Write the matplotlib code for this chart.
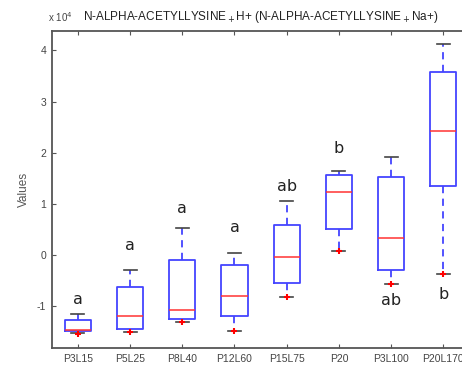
import numpy as np
import matplotlib.pyplot as plt

plt.rcParams["axes.unicode_minus"] = False

# Box statistics (values in units of 10^4)
groups = ["P3L15", "P5L25", "P8L40", "P12L60", "P15L75", "P20", "P3L100", "P20L170"]
whis_lo = [-1.53, -1.50, -1.31, -1.49, -0.83, 0.08, -0.57, -0.38]
q1 = [-1.49, -1.45, -1.25, -1.20, -0.56, 0.51, -0.29, 1.34]
medians = [-1.47, -1.19, -1.08, -0.80, -0.04, 1.23, 0.33, 2.43]
q3 = [-1.28, -0.62, -0.11, -0.20, 0.59, 1.57, 1.52, 3.58]
whis_hi = [-1.16, -0.30, 0.53, 0.045, 1.06, 1.65, 1.91, 4.12]
outliers = [-1.54, -1.51, -1.32, -1.49, -0.83, 0.08, -0.57, -0.38]

# significance letters and where they sit
letters = ["a", "a", "a", "a", "ab", "b", "ab", "b"]
letter_y = [-0.88, 0.18, 0.90, 0.53, 1.33, 2.08, -0.90, -0.78]

stats = []
for i, name in enumerate(groups):
    stats.append(dict(label=name, whislo=whis_lo[i], q1=q1[i], med=medians[i],
                      q3=q3[i], whishi=whis_hi[i], fliers=[outliers[i]]))

fig = plt.figure(figsize=(4.62, 3.74), dpi=100)
ax = fig.add_axes([0.112, 0.069, 0.904, 0.848])

pos = np.arange(1, len(groups) + 1)
ax.bxp(stats, positions=pos, widths=0.5, capwidths=0.25,
       boxprops=dict(color="#4444ff", linewidth=1.3),
       whiskerprops=dict(color="#4444ff", linewidth=1.3, linestyle=(0, (4, 3))),
       capprops=dict(color="#444444", linewidth=1.2),
       medianprops=dict(color="#ff3333", linewidth=1.1),
       flierprops=dict(marker="+", markeredgecolor="red", markersize=4, markeredgewidth=1.5))

for x, lab, y in zip(pos, letters, letter_y):
    ax.text(x, y, lab, ha="center", va="center", fontsize=11.5, color="#222222")

ax.set_xlim(0.5, 8.5)
ax.set_ylim(-1.826, 4.38)
ax.set_yticks([-1, 0, 1, 2, 3, 4])
ax.set_xticks(pos)
ax.set_xticklabels(groups)

for s in ax.spines.values():
    s.set_color("#555555")
    s.set_linewidth(1.3)
ax.tick_params(direction="in", length=3, width=0.8, color="#555555",
               labelsize=7.5, labelcolor="#444444", pad=4, top=True)
for t in ax.get_xticklabels() + ax.get_yticklabels():
    t.set_family("Liberation Sans")

ax.set_ylabel("Values", fontsize=8.5, color="#555555", family="Liberation Sans", labelpad=5)

ax.set_title("N-ALPHA-ACETYLLYSINE$_+$H+ (N-ALPHA-ACETYLLYSINE$_+$Na+)",
             fontsize=8.5, family="Liberation Sans", color="#222222", pad=8)
fig.text(48 / 462, 1 - 17 / 374, r"x 10$^4$", fontsize=7, family="Liberation Sans",
         color="#444444", va="center", ha="left")

fig.savefig("out.png", dpi=100)
